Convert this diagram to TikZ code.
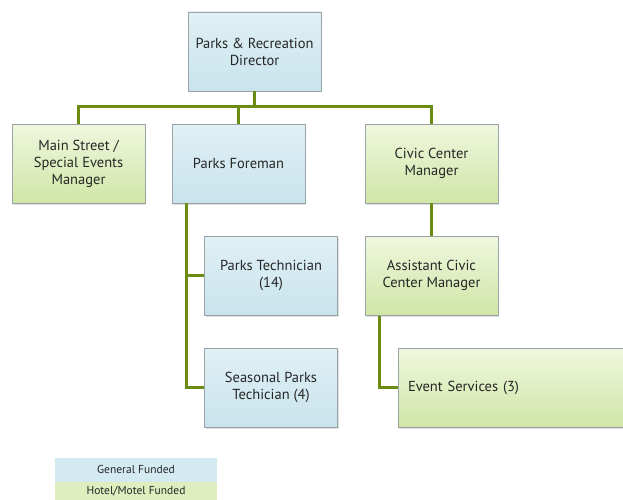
\documentclass[tikz,border=0pt]{standalone}
\usepackage{fontspec}
\setmainfont{PT Sans}
\usetikzlibrary{shadows}

\definecolor{genblue}{HTML}{D4EAF1}
\definecolor{genblueb}{HTML}{C8E3EC}
\definecolor{hotgreen}{HTML}{E8F3D0}
\definecolor{hotgreenb}{HTML}{D0E6A6}
\definecolor{linkgreen}{HTML}{6A8C12}
\definecolor{edgegray}{HTML}{9AA4A8}

\tikzset{
  post/.style={draw=edgegray, line width=0.8pt, minimum width=133pt, minimum height=79pt,
    align=center, font=\fontsize{14.5}{17}\selectfont, text=black!85,
    drop shadow={shadow xshift=1.2pt, shadow yshift=-1.5pt, opacity=0.25}},
  general/.style={post, top color=genblue!70, bottom color=genblueb},
  hotel/.style={post, top color=hotgreen!70, bottom color=hotgreenb},
  link/.style={draw=linkgreen, line width=3pt},
  keyrow/.style={minimum width=162pt, align=center, inner sep=0pt, text=black!85,
    font=\fontsize{11.5}{13}\selectfont}
}

\begin{document}
\begin{tikzpicture}[x=1pt, y=-1pt]
    \useasboundingbox (0,0) rectangle (623,500);
    \fill[white] (0,0) rectangle (623,500);
    % top level
    \node[general] (dir) at (254.5,51.5) {Parks \& Recreation\\Director};
    % second row
    \node[hotel] (mainst) at (78.5,163.5) {Main Street /\\Special Events\\Manager};
    \node[general] (fore) at (238.5,163.5) {Parks Foreman};
    \node[hotel] (civic) at (431.5,163.5) {Civic Center\\Manager};
    % parks staff
    \node[general] (tech) at (271,275.5) {Parks Technician\\(14)};
    \node[general] (seas) at (271,387.5) {Seasonal Parks\\Techician (4)};
    % civic center staff
    \node[hotel] (asst) at (431.5,275.5) {Assistant Civic\\Center Manager};
    \node[hotel, text width=212pt, inner xsep=10pt, align=left] (event) at (514,387.5) {Event Services (3)};
    % connectors
    \coordinate (bar) at (255,107);
    \coordinate (ft) at (186,203);
    \coordinate (at) at (379,316);
    \draw[link] (dir.south) -- (dir.south |- bar);
    \draw[link] (mainst.north) -- (mainst.north |- bar) -| (civic.north);
    \draw[link] (fore.north) -- (fore.north |- bar);
    \draw[link] (ft) |- (seas.west);
    \draw[link] (ft |- tech.west) -- (tech.west);
    \draw[link] (civic.south) -- (asst.north);
    \draw[link] (at) |- (event.west);
    % legend
    \node[keyrow, fill=genblue, minimum height=24pt] (kgen) at (136,469.5) {General Funded};
    \node[keyrow, fill=hotgreen!60!hotgreenb, minimum height=18pt, anchor=north] (khot) at (kgen.south) {Hotel/Motel Funded};
\end{tikzpicture}
\end{document}
